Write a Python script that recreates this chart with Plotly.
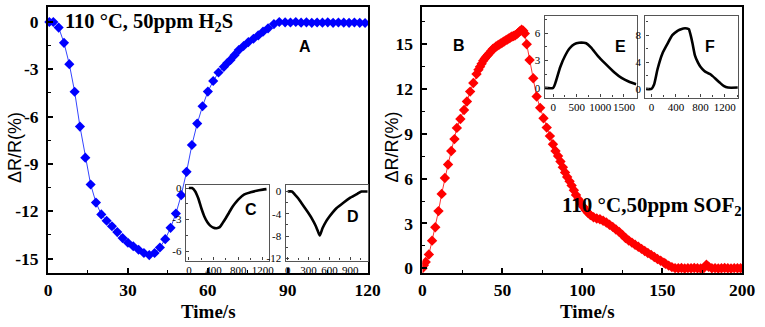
import plotly.graph_objects as go

# ---------------- data ----------------
# Panel A: 110 °C, 50 ppm H2S
a_time = [0.5, 2, 4, 6, 8, 10, 12, 14, 16, 18, 20, 22, 24, 26, 28, 30, 32, 34, 36, 38,
          40, 42, 44, 46, 48, 50, 52, 54, 56, 58, 60, 62, 64, 66, 67.3, 68.5, 70, 71.6,
          73.4, 75.2, 77.1, 78.9, 80.7, 82.6, 84.8, 86.8, 89, 91, 93, 95, 97, 99, 101,
          103, 105, 107, 109, 111, 113, 115, 117, 119]
a_resp = [0.0, 0.0, -0.35, -1.32, -2.67, -4.42, -6.63, -8.6, -10.3, -11.45, -12.2, -12.6,
          -12.95, -13.32, -13.7, -14.0, -14.22, -14.44, -14.65, -14.78, -14.65, -14.3,
          -13.77, -13.05, -12.15, -10.98, -9.5, -7.8, -6.44, -5.34, -4.41, -3.74, -3.2,
          -2.84, -2.6, -2.4, -2.1, -1.78, -1.52, -1.27, -1.06, -0.85, -0.61, -0.4, -0.13,
          0.0, -0.02, -0.03, 0.0, -0.04, -0.02, -0.05, -0.03, -0.04, -0.02, -0.05, -0.03,
          -0.04, -0.05, -0.03, -0.05, -0.06]

# Panel B: 110 °C, 50 ppm SOF2
b_time = [0, 0.8, 2, 4, 6, 8, 10, 12, 14, 16, 18, 20, 21.5, 23.7, 26, 27.8, 29.8, 31.8, 33.8,
          35, 36, 37, 38, 39, 40, 41, 42, 43, 44, 45, 46, 47, 48, 49, 50, 51, 52, 53, 54,
          55, 56, 57, 58, 59, 60, 61, 62, 63, 64, 65.2, 67, 69.3, 71.4, 73.6, 75.7, 77.7,
          79.7, 81.6, 83.2, 84.8, 86.3, 87.8, 89.2, 90.5, 92, 93.3, 94.7, 96, 97.5, 99,
          100.5, 102, 103.5, 105, 107, 109, 111, 113, 115, 117, 119, 121, 123, 125, 127,
          129, 131, 133, 135, 137, 139, 141, 143, 145, 147, 149, 151, 152, 154, 156, 158,
          160, 162, 164, 166, 168, 170, 172, 174, 176, 177.6, 179, 181, 183, 185, 187, 189,
          191, 193, 195, 197, 199]
b_resp = [0.0, 0.2, 0.42, 0.92, 1.85, 2.75, 3.83, 4.98, 6.05, 6.95, 7.85, 8.65, 9.4, 10.0,
          10.6, 11.17, 11.83, 12.41, 13.0, 13.3, 13.5, 13.7, 13.9, 14.05, 14.18, 14.3, 14.42,
          14.55, 14.68, 14.75, 14.85, 14.92, 14.98, 15.05, 15.12, 15.18, 15.26, 15.32, 15.38,
          15.45, 15.52, 15.55, 15.6, 15.68, 15.78, 15.88, 15.98, 15.9, 15.72, 15.0, 13.95,
          12.72, 11.5, 10.74, 10.05, 9.42, 8.85, 8.3, 7.85, 7.52, 7.15, 6.76, 6.42, 6.11,
          5.82, 5.55, 5.22, 4.91, 4.62, 4.37, 4.12, 3.9, 3.72, 3.56, 3.42, 3.33, 3.28, 3.18,
          3.07, 2.92, 2.77, 2.6, 2.44, 2.24, 2.03, 1.86, 1.72, 1.58, 1.44, 1.3, 1.16, 1.02,
          0.9, 0.76, 0.62, 0.5, 0.38, 0.3, 0.18, 0.08, 0.01, 0.0, 0.02, -0.01, 0.01, 0.0,
          0.02, 0.0, -0.01, 0.02, 0.24, 0.1, 0.0, 0.01, -0.01, 0.0, 0.02, 0.0, -0.01, 0.01,
          0.0, 0.0]

# Inset C
c_time = [0, 50, 100, 150, 200, 250, 300, 350, 400, 450, 500, 550, 600, 650, 700, 750,
          800, 900, 1000, 1100, 1200, 1260]
c_resp = [0, 0, -0.3, -0.95, -1.9, -2.7, -3.25, -3.6, -3.78, -3.82, -3.72, -3.3, -2.85,
          -2.35, -1.85, -1.45, -1.1, -0.6, -0.4, -0.25, -0.15, -0.1]
# Inset D
d_time = [0, 60, 100, 150, 200, 250, 300, 350, 400, 430, 460, 500, 550, 600, 650, 700,
          800, 900, 1000, 1060, 1100, 1150]
d_resp = [0, 0, -0.5, -1.2, -2.1, -3.0, -3.9, -4.9, -6.1, -7.0, -7.9, -6.6, -5.4, -4.5,
          -3.7, -3.0, -2.0, -1.1, -0.4, 0, 0, 0]
# Inset E
e_time = [-180, 0, 50, 150, 250, 350, 450, 550, 650, 700, 800, 950, 1100, 1300, 1450, 1600, 1760]
e_resp = [0, 0, 0.6, 2.3, 3.5, 4.35, 4.8, 4.95, 4.95, 4.9, 4.45, 3.5, 2.7, 1.7, 1.1, 0.7, 0.4]
# Inset F
f_time = [-90, 0, 40, 100, 180, 260, 340, 420, 460, 520, 580, 610, 640, 670, 710, 760,
          800, 860, 900, 960, 1000, 1060, 1120, 1180, 1250, 1410]
f_resp = [0, 0, 0.6, 3.0, 5.3, 6.7, 8.0, 8.6, 8.8, 9.0, 9.0, 8.9, 8.0, 6.8, 5.0, 3.9, 3.3,
          2.7, 2.45, 2.2, 1.9, 1.4, 0.9, 0.45, 0.2, 0.2]

a_yticks = [0, -3, -6, -9, -12, -15]
b_yticks = [0, 3, 6, 9, 12, 15]
a_xticks = [0, 30, 60, 90, 120]
b_xticks = [0, 50, 100, 150, 200]

# ---------------- figure ----------------
W, H = 765, 327
def px(x):
    return x / W
def py(y):
    return 1 - y / H

fig = go.Figure()
fig.add_trace(go.Scatter(x=a_time, y=a_resp, mode="lines+markers",
                         line=dict(color="#3344ff", width=1),
                         marker=dict(symbol="diamond", size=7.8, color="#0000ff"),
                         xaxis="x", yaxis="y", showlegend=False, cliponaxis=False))
fig.add_trace(go.Scatter(x=b_time, y=b_resp, mode="lines+markers",
                         line=dict(color="#ff3333", width=1),
                         marker=dict(symbol="diamond", size=8, color="#ff0000"),
                         xaxis="x2", yaxis="y2", showlegend=False))
for xs, ys, ax in [(c_time, c_resp, "3"), (d_time, d_resp, "4"),
                   (e_time, e_resp, "5"), (f_time, f_resp, "6")]:
    fig.add_trace(go.Scatter(x=xs, y=ys, mode="lines",
                             line=dict(color="black", width=2.6, shape="spline", smoothing=0.6),
                             xaxis="x" + ax, yaxis="y" + ax, showlegend=False))

serif = "Liberation Serif"
main_tick = dict(family=serif, size=17.5, color="black", weight="bold")
inset_tick = dict(family=serif, size=11, color="black")

def main_ax(dom, rng, vals, minor, anchor, standoff):
    return dict(domain=dom, range=rng, tickvals=vals, ticktext=[str(v) for v in vals],
                ticks="inside", ticklen=5, tickwidth=1.5, tickcolor="black",
                minor=dict(ticks="inside", ticklen=3, tickwidth=1.2, dtick=minor, tick0=0,
                           tickcolor="black"),
                showline=True, linecolor="black", linewidth=1.8, mirror=True,
                showgrid=False, zeroline=False, tickfont=main_tick, anchor=anchor,
                ticklabelstandoff=standoff, tickangle=0)

def inset_ax(dom, rng, vals, minor, anchor, standoff):
    return dict(domain=dom, range=rng, tickvals=vals, ticktext=[str(v) for v in vals],
                ticks="inside", ticklen=3, tickwidth=1, tickcolor="#444",
                minor=dict(ticks="inside", ticklen=2, tickwidth=1, dtick=minor, tick0=0,
                           tickcolor="#444"),
                showline=True, linecolor="#555", linewidth=1.4, mirror=True,
                showgrid=False, zeroline=False, tickfont=inset_tick, anchor=anchor,
                ticklabelstandoff=standoff, tickangle=0)

ydom_main = [py(277), py(4)]
ydom_cd = [py(264), py(187)]
ydom_ef = [py(97), py(13)]

fig.update_layout(
    width=W, height=H, autosize=False,
    margin=dict(l=0, r=0, t=0, b=0),
    paper_bgcolor="white", plot_bgcolor="white",
    xaxis=main_ax([px(45), px(372)], [0, 120], a_xticks, 15, "y", 0),
    yaxis=main_ax(ydom_main, [-15.93, 0.96], a_yticks, 1.5, "x", 4),
    xaxis2=main_ax([px(428), px(755)], [0, 200], b_xticks, 25, "y2", 0),
    yaxis2=main_ax(ydom_main, [-0.33, 17.5], b_yticks, 1.5, "x2", 4),
    xaxis3=inset_ax([px(186), px(271)], [-50, 1300], [0, 400, 800, 1200], 200, "y3", -1),
    yaxis3=inset_ax(ydom_cd, [-6.9, 0.25], [0, -3, -6], 1.5, "x3", 1),
    xaxis4=inset_ax([px(288), px(372)], [-30, 1150], [0, 300, 600, 900], 150, "y4", -1),
    yaxis4=inset_ax(ydom_cd, [-12.4, 1.1], [0, -4, -8, -12], 2, "x4", 1),
    xaxis5=inset_ax([px(553), px(647)], [-180, 1770], [0, 500, 1000, 1500], 250, "y5", -1),
    yaxis5=inset_ax(ydom_ef, [-1.07, 7.93], [0, 3, 6], 1.5, "x5", 1),
    xaxis6=inset_ax([px(656), px(751)], [-100, 1420], [0, 400, 800, 1200], 200, "y6", -1),
    yaxis6=inset_ax(ydom_ef, [-1.3, 10.9], [0, 4, 8], 2, "x6", 1),
)

def ann(text, x, y, size, family, bold=False, angle=0, xanchor="center"):
    fig.add_annotation(text=text, x=px(x), y=py(y), xref="paper", yref="paper",
                       showarrow=False, textangle=angle, xanchor=xanchor, yanchor="middle",
                       font=dict(family=family, size=size, color="black",
                                 weight="bold" if bold else "normal"))

sans = "Liberation Sans"
ann("110 °C, 50ppm H<sub>2</sub>S", 60, 20, 20.5, serif, bold=True, xanchor="left")
ann("110 °C,50ppm SOF<sub>2</sub>", 569, 208, 21, serif, bold=True, xanchor="left")
ann("A", 308, 45, 16, sans, bold=True)
ann("B", 465, 44, 16, sans, bold=True)
ann("C", 253, 212, 16, sans, bold=True)
ann("D", 357, 219, 16, sans, bold=True)
ann("E", 630, 45, 16, sans, bold=True)
ann("F", 722, 45, 16, sans, bold=True)
ann("ΔR/R(%)", 12, 148, 18, sans, angle=-90)
ann("ΔR/R(%)", 397, 148, 18, sans, angle=-90)
ann("Time/s", 209, 316, 19, serif, bold=True)
ann("Time/s", 597, 316, 19, serif, bold=True)

fig.write_html("out.html", config={"displayModeBar": False},
               post_script="document.body.style.margin='0';document.body.style.overflow='hidden';")
